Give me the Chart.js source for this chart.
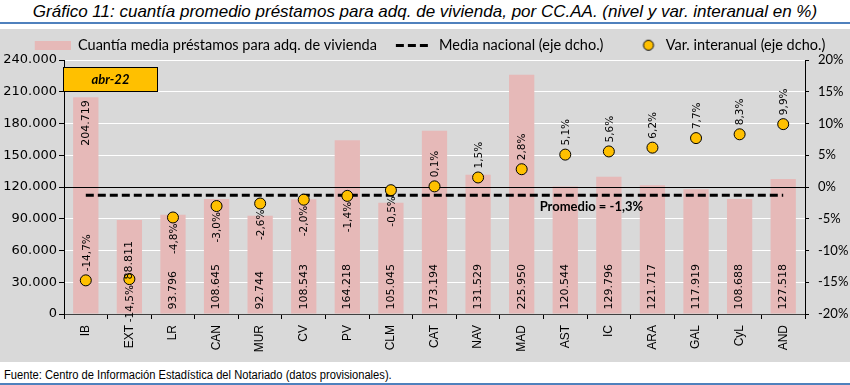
<!DOCTYPE html>
<html>
<head>
<meta charset="utf-8">
<script src="https://cdn.jsdelivr.net/npm/chart.js@4"></script>
<style>
  body { margin: 0; width: 850px; height: 385px; background: #fff; position: relative; overflow: hidden; }
  .title { position: absolute; left: 0; top: 2px; width: 850px; text-align: center;
           font: italic 17px "Liberation Sans Narrow", "Liberation Sans", sans-serif; color: #000; }
  .rule { position: absolute; left: 0; width: 850px; height: 2px; background: #4F81BD; }
  .box { position: absolute; left: 0; top: 29px; width: 850px; height: 333px; background: #D9D9D9; }
  .source { position: absolute; left: 4px; top: 368px; white-space: nowrap;
            transform: scaleX(0.93); transform-origin: left top;
            font: 12px "Liberation Sans Narrow", "Liberation Sans", sans-serif; color: #000; }
</style>
</head>
<body>
<div class="title">Gráfico 11: cuantía promedio préstamos para adq. de vivienda, por CC.AA. (nivel y var. interanual en %)</div>
<div class="rule" style="top:22px"></div>
<div class="box"><canvas id="myChart" width="850" height="333"></canvas></div>
<div class="source">Fuente: Centro de Información Estadística del Notariado (datos provisionales).</div>
<div class="rule" style="top:383px"></div>
<script>
const regions = ['IB', 'EXT', 'LR', 'CAN', 'MUR', 'CV', 'PV', 'CLM', 'CAT', 'NAV', 'MAD', 'AST', 'IC', 'ARA', 'GAL', 'CyL', 'AND'];
const loanAmount = [204719, 88811, 93796, 108645, 92744, 108543, 164218, 105045, 173194, 131529, 225950, 120544, 129796, 121717, 117919, 108688, 127518];
const yearlyChange = [-14.7, -14.5, -4.8, -3.0, -2.6, -2.0, -1.4, -0.5, 0.1, 1.5, 2.8, 5.1, 5.6, 6.2, 7.7, 8.3, 9.9];
const nationalAvg = -1.3;
const periodLabel = 'abr-22';

const fmtThousands = v => String(v).replace(/\B(?=(\d{3})+(?!\d))/g, '.');
const fmtPct = v => v.toFixed(1).replace('.', ',') + '%';

const PINK = '#E6B9B8';
const GOLD = '#FFC000';

// legend icons (10px of blank space on the left acts as the gap between items)
function icon(h, draw) {
    const c = document.createElement('canvas');
    c.width = 46; c.height = h;
    const g = c.getContext('2d');
    g.translate(10, 0);
    draw(g);
    return c;
}
const legendIcons = [
    icon(9, g => { g.fillStyle = PINK; g.fillRect(0, 0, 36, 9); }),
    icon(3, g => { g.fillStyle = '#000'; [0, 12, 24].forEach(x => g.fillRect(x, 0, 8, 3)); }),
    icon(13, g => {
        g.beginPath(); g.arc(26, 6.5, 5, 0, Math.PI * 2);
        g.fillStyle = GOLD; g.fill(); g.lineWidth = 1; g.strokeStyle = '#000'; g.stroke();
    })
];

// labels drawn on top of the marks
const markLabels = {
    id: 'markLabels',
    afterDatasetDraw(chart, args) {
        // 0% line sits above the bars
        if (args.index === 0) {
            const ctx = chart.ctx, area = chart.chartArea;
            const y0 = Math.round(chart.scales.y1.getPixelForValue(0)) + 0.5;
            ctx.save();
            ctx.strokeStyle = '#000'; ctx.lineWidth = 1;
            ctx.beginPath(); ctx.moveTo(area.left, y0); ctx.lineTo(area.right, y0); ctx.stroke();
            ctx.restore();
        }
    },
    afterDatasetsDraw(chart) {
        const ctx = chart.ctx;
        const bars = chart.getDatasetMeta(0).data;
        const pts = chart.getDatasetMeta(2).data;
        ctx.save();
        ctx.fillStyle = '#000';
        ctx.textBaseline = 'middle';
        ctx.font = '11px "DejaVu Sans"';
        bars.forEach((bar, i) => {
            let y = bar.base - 4, align = 'left';
            if (regions[i] === 'IB') { y = bar.y + 3; align = 'right'; }
            if (regions[i] === 'EXT') { y = bar.y + 21; align = 'right'; }
            ctx.save();
            ctx.translate(bar.x, y);
            ctx.rotate(-Math.PI / 2);
            ctx.textAlign = align;
            ctx.fillText(fmtThousands(loanAmount[i]), 0, 0);
            ctx.restore();
        });
        ctx.font = '10.5px "DejaVu Sans"';
        pts.forEach((pt, i) => {
            const above = yearlyChange[i] >= 0 || regions[i] === 'IB';
            ctx.save();
            ctx.translate(pt.x + 1, above ? pt.y - 9 : pt.y + 6);
            ctx.rotate(-Math.PI / 2);
            ctx.textAlign = above ? 'left' : 'right';
            ctx.fillText(fmtPct(yearlyChange[i]), 0, 0);
            ctx.restore();
        });
        // average label
        ctx.font = 'bold 13px Lato';
        ctx.textAlign = 'center';
        ctx.fillText('Promedio = ' + fmtPct(nationalAvg),
            chart.scales.x.getPixelForValue(11.6), chart.scales.y1.getPixelForValue(nationalAvg) + 12);
        // period box
        const area = chart.chartArea;
        const bx = area.left - 0.5, by = area.top + 7.5;
        ctx.fillStyle = GOLD;
        ctx.fillRect(bx, by, 94, 24);
        ctx.strokeStyle = '#000'; ctx.lineWidth = 1;
        ctx.strokeRect(bx, by, 94, 24);
        ctx.fillStyle = '#000';
        ctx.font = 'italic bold 13px Lato';
        ctx.fillText(periodLabel, bx + 47, by + 12.5);
        ctx.restore();
    }
};

const legendSpace = {
    id: 'legendSpace',
    beforeInit(chart) {
        const fit = chart.legend.fit;
        chart.legend.fit = function () {
            fit.bind(chart.legend)();
            this.height = 31;
        };
    }
};

const ctx = document.getElementById('myChart');

new Chart(ctx, {
    type: 'bar',
    data: {
        labels: regions,
        datasets: [
            {
                label: 'Cuantía media préstamos para adq. de vivienda',
                data: loanAmount,
                backgroundColor: PINK,
                yAxisID: 'y',
                barPercentage: 0.58,
                categoryPercentage: 1,
                order: 3
            },
            {
                type: 'line',
                label: 'Media nacional (eje dcho.)',
                data: regions.map(() => nationalAvg),
                borderColor: '#000',
                borderWidth: 3,
                borderDash: [8, 4],
                pointRadius: 0,
                fill: false,
                yAxisID: 'y1',
                order: 2
            },
            {
                type: 'line',
                label: 'Var. interanual (eje dcho.)',
                data: yearlyChange,
                showLine: false,
                pointRadius: 5.5,
                pointBackgroundColor: GOLD,
                pointBorderColor: '#000',
                pointBorderWidth: 1,
                yAxisID: 'y1',
                order: 1
            }
        ]
    },
    options: {
        responsive: false,
        animation: false,
        layout: { padding: 0 },
        plugins: {
            legend: {
                labels: {
                    usePointStyle: true,
                    pointStyleWidth: 46,
                    padding: 9,
                    color: '#000',
                    font: { family: 'Lato', size: 14.5 },
                    generateLabels(chart) {
                        const items = Chart.defaults.plugins.legend.labels.generateLabels(chart);
                        items.forEach(it => { it.pointStyle = legendIcons[it.datasetIndex]; });
                        return items.sort((a, b) => a.datasetIndex - b.datasetIndex);
                    }
                }
            },
            tooltip: { enabled: false }
        },
        scales: {
            x: {
                offset: true,
                grid: { drawOnChartArea: false, tickColor: '#000', tickLength: 5, offset: true },
                border: { color: '#404040' },
                ticks: {
                    color: '#000',
                    minRotation: 90, maxRotation: 90,
                    padding: 6,
                    font: { family: 'Liberation Sans', size: 12 }
                },
                afterFit(scale) { scale.height = 48; }
            },
            y: {
                min: 0, max: 240000,
                ticks: {
                    stepSize: 30000,
                    color: '#000',
                    padding: 2,
                    font: { family: 'DejaVu Sans', size: 13 },
                    callback: v => fmtThousands(v)
                },
                grid: { color: '#fff', tickColor: '#000', tickLength: 5 },
                border: { color: '#000' },
                afterFit(scale) { scale.width = 64; }
            },
            y1: {
                position: 'right',
                min: -20, max: 20,
                ticks: {
                    stepSize: 5,
                    color: '#000',
                    padding: 9,
                    font: { family: 'Lato', size: 13 },
                    callback: v => v + '%'
                },
                grid: { drawOnChartArea: false, tickColor: '#000', tickLength: 4 },
                border: { color: '#000' },
                afterFit(scale) { scale.width = 45; }
            }
        }
    },
    plugins: [legendSpace, markLabels]
});
</script>
</body>
</html>
